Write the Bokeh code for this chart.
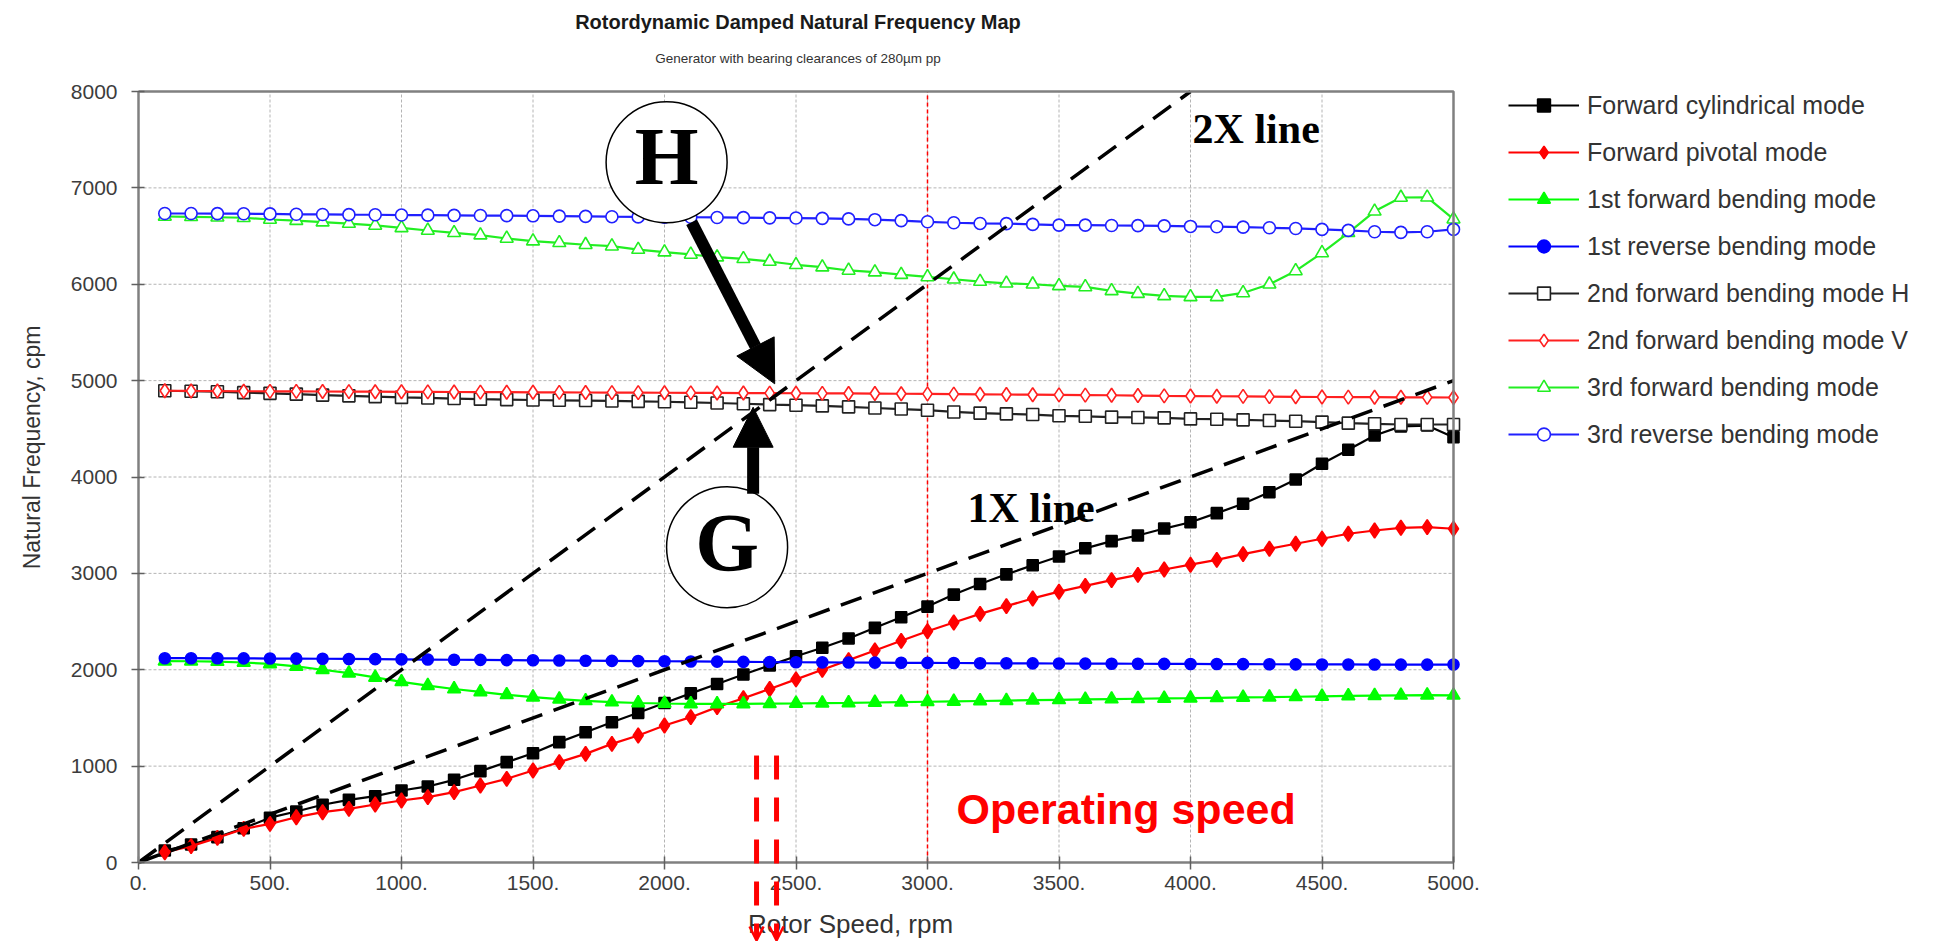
import math
from bokeh.plotting import figure
from bokeh.models import (Label, Legend, LegendItem, Arrow, NormalHead, OpenHead,
                          FixedTicker, Range1d)
from bokeh.embed import file_html
from bokeh.resources import INLINE

# ---------------- data ----------------
speed = list(range(100, 5001, 100))

fwd_cyl = [124, 187, 263, 356, 465, 529, 599, 650, 688, 747,
           789, 858, 948, 1041, 1134, 1249, 1352, 1456, 1553, 1655,
           1755, 1852, 1950, 2045, 2140, 2228, 2325, 2435, 2545, 2655,
           2780, 2890, 2990, 3085, 3175, 3260, 3335, 3393, 3465, 3531,
           3625, 3722, 3842, 3974, 4137, 4282, 4431, 4525, 4534, 4413]

fwd_piv = [107, 170, 256, 349, 401, 470, 522, 557, 602, 643,
           678, 730, 799, 868, 955, 1041, 1127, 1231, 1318, 1421,
           1508, 1612, 1705, 1800, 1900, 2000, 2100, 2200, 2300, 2400,
           2490, 2580, 2660, 2740, 2810, 2870, 2930, 2985, 3040, 3090,
           3140, 3200, 3255, 3307, 3359, 3411, 3445, 3473, 3480, 3463]

first_fwd = [2090, 2088, 2085, 2075, 2060, 2035, 2000, 1965, 1920, 1875,
             1835, 1800, 1770, 1740, 1715, 1695, 1678, 1665, 1655, 1650,
             1646, 1645, 1646, 1648, 1650, 1653, 1656, 1660, 1664, 1668,
             1672, 1676, 1680, 1684, 1688, 1692, 1696, 1699, 1702, 1705,
             1709, 1713, 1716, 1720, 1724, 1728, 1732, 1735, 1737, 1735]

first_rev = [2120, 2120, 2119, 2118, 2116, 2115, 2114, 2112, 2110, 2108,
             2106, 2104, 2102, 2100, 2098, 2096, 2094, 2092, 2090, 2088,
             2086, 2084, 2082, 2080, 2078, 2077, 2075, 2074, 2072, 2071,
             2070, 2068, 2067, 2066, 2065, 2064, 2063, 2062, 2061, 2060,
             2059, 2058, 2057, 2056, 2055, 2055, 2054, 2053, 2053, 2054]

second_H = [4895, 4890, 4885, 4875, 4868, 4860, 4850, 4842, 4834, 4826,
            4820, 4814, 4808, 4803, 4799, 4796, 4793, 4789, 4785, 4781,
            4775, 4768, 4760, 4751, 4745, 4738, 4728, 4716, 4705, 4693,
            4675, 4663, 4655, 4648, 4635, 4630, 4621, 4618, 4614, 4603,
            4600, 4593, 4586, 4579, 4569, 4559, 4552, 4545, 4545, 4545]

second_V = [4895, 4893, 4892, 4890, 4889, 4888, 4887, 4886, 4885, 4884,
            4883, 4882, 4881, 4880, 4879, 4878, 4877, 4876, 4875, 4874,
            4873, 4872, 4871, 4870, 4869, 4868, 4867, 4866, 4864, 4862,
            4860, 4858, 4856, 4854, 4852, 4850, 4848, 4845, 4842, 4840,
            4838, 4836, 4834, 4832, 4830, 4829, 4828, 4827, 4826, 4825]

third_fwd = [6703, 6700, 6695, 6690, 6672, 6660, 6645, 6630, 6610, 6585,
             6558, 6534, 6510, 6475, 6448, 6430, 6410, 6395, 6360, 6333,
             6309, 6281, 6264, 6236, 6202, 6178, 6143, 6126, 6100, 6076,
             6052, 6028, 6010, 6000, 5983, 5972, 5931, 5903, 5879, 5869,
             5869, 5910, 6000, 6138, 6325, 6534, 6757, 6900, 6902, 6675]

third_rev = [6734, 6734, 6733, 6732, 6730, 6726, 6724, 6722, 6721, 6718,
             6717, 6715, 6713, 6712, 6710, 6707, 6704, 6701, 6699, 6697,
             6695, 6693, 6691, 6689, 6687, 6684, 6678, 6670, 6660, 6648,
             6638, 6631, 6629, 6621, 6614, 6613, 6610, 6608, 6606, 6600,
             6597, 6593, 6586, 6579, 6569, 6559, 6545, 6538, 6545, 6569]

series_names = ["Forward cylindrical mode", "Forward pivotal mode",
                "1st forward bending mode", "1st reverse bending mode",
                "2nd forward bending mode H", "2nd forward bending mode V",
                "3rd forward bending mode", "3rd reverse bending mode"]

# excitation lines
line_1x_speed = [0, 5000]
line_1x_freq = [0, 5000]
line_2x_speed = [0, 4000]
line_2x_freq = [0, 8000]
operating_speed = 3000
critical_band = [2350, 2426]   # red dashed markers on the speed axis

x_ticks = [0, 500, 1000, 1500, 2000, 2500, 3000, 3500, 4000, 4500, 5000]
x_tick_labels = ["0.", "500.", "1000.", "1500.", "2000.", "2500.", "3000.",
                 "3500.", "4000.", "4500.", "5000."]
y_ticks = [0, 1000, 2000, 3000, 4000, 5000, 6000, 7000, 8000]
y_tick_labels = ["0", "1000", "2000", "3000", "4000", "5000", "6000", "7000", "8000"]

# ---------------- layout geometry (pixels) ----------------
W, H = 1949, 942
X0, Y0 = 138, 862                       # pixel position of (0 rpm, 0 cpm)
SX = (1453 - 138) / (x_ticks[-1] - x_ticks[0])
SY = (862 - 91) / (y_ticks[-1] - y_ticks[0])


def dx(px):
    return (px - X0) / SX


def dy(py):
    return (Y0 - py) / SY


p = figure(width=W, height=H, x_range=Range1d(dx(0), dx(W)), y_range=Range1d(dy(H), dy(0)),
           output_backend="svg", toolbar_location=None, title=None,
           min_border=0, min_border_left=0, min_border_right=0,
           min_border_top=0, min_border_bottom=0)
p.background_fill_color = "white"
p.border_fill_color = "white"
p.outline_line_color = None
p.xgrid.visible = False
p.ygrid.visible = False

xmin, xmax = x_ticks[0], x_ticks[-1]
ymin, ymax = y_ticks[0], y_ticks[-1]

# axes fixed at the data origin
p.xaxis.fixed_location = 0
p.yaxis.fixed_location = 0
p.xaxis.bounds = (xmin, xmax)
p.yaxis.bounds = (ymin, ymax)
p.xaxis.ticker = FixedTicker(ticks=x_ticks)
p.yaxis.ticker = FixedTicker(ticks=y_ticks)
p.xaxis.major_label_overrides = dict(zip(x_ticks, x_tick_labels))
p.yaxis.major_label_overrides = dict(zip(y_ticks, y_tick_labels))
for ax in (p.xaxis[0], p.yaxis[0]):
    ax.axis_line_color = "#808080"
    ax.axis_line_width = 2.5
    ax.major_tick_line_color = "#606060"
    ax.major_tick_line_width = 1.5
    ax.major_tick_in = 6
    ax.major_tick_out = 7
    ax.minor_tick_line_color = None
    ax.major_label_text_font = "Liberation Sans"
    ax.major_label_text_font_size = "21px"
    ax.major_label_text_color = "#3c3c3c"
p.xaxis.major_label_standoff = 6
p.yaxis.major_label_standoff = 14

# dotted grid (drawn from tick lists, limited to the plotting area)
p.segment(x0=x_ticks[1:], y0=[ymin] * (len(x_ticks) - 1), x1=x_ticks[1:],
          y1=[ymax] * (len(x_ticks) - 1), line_color="#b4b4b4", line_dash="3 2", line_width=1)
p.segment(x0=[xmin] * (len(y_ticks) - 1), y0=y_ticks[1:], x1=[xmax] * (len(y_ticks) - 1),
          y1=y_ticks[1:], line_color="#b4b4b4", line_dash="3 2", line_width=1)

# operating speed line
p.segment(x0=[operating_speed], y0=[ymin], x1=[operating_speed], y1=[ymax],
          line_color="#ff0000", line_dash="4 3", line_width=1.5)

# ---------------- series ----------------
styles = [
    (fwd_cyl, "#000000", "square", 11, "#000000"),
    (fwd_piv, "#ff0000", "diamond", 15, "#ff0000"),
    (first_fwd, "#00ff00", "triangle", 13, "#00ff00"),
    (first_rev, "#0000ff", "circle", 11, "#0000ff"),
    (second_H, "#222222", "square", 12, "white"),
    (second_V, "#ff2020", "diamond", 14, "white"),
    (third_fwd, "#22ee22", "triangle", 13, "white"),
    (third_rev, "#2020ff", "circle", 12, "white"),
]
items = []
for name, (vals, col, mk, sz, fill) in zip(series_names, styles):
    lr = p.line(speed, vals, line_color=col, line_width=2.2)
    sr = p.scatter(speed, vals, marker=mk, size=sz, fill_color=fill, line_color=col,
                   line_width=1.6)
    items.append(LegendItem(label=name, renderers=[lr, sr]))

# 1X and 2X lines
p.line(line_1x_speed, line_1x_freq, line_color="black", line_width=3.5, line_dash="22 12")
p.line(line_2x_speed, line_2x_freq, line_color="black", line_width=3.5, line_dash="22 12")

# frame border (top and right)
p.line([xmin, xmax, xmax], [ymax, ymax, ymin], line_color="#808080", line_width=2.5)

# ---------------- annotations ----------------
h_center = (2008, 7266)
g_center = (2238, 3272)
p.scatter([h_center[0]], [h_center[1]], marker="circle", size=121, fill_color="white",
          line_color="black", line_width=1.5)
p.scatter([g_center[0]], [g_center[1]], marker="circle", size=121, fill_color="white",
          line_color="black", line_width=1.5)
p.add_layout(Label(x=h_center[0], y=h_center[1] + 55, text="H", text_font="Liberation Serif",
                   text_font_style="bold", text_font_size="82px", text_align="center",
                   text_baseline="middle", text_color="black"))
p.add_layout(Label(x=g_center[0], y=g_center[1] + 50, text="G", text_font="Liberation Serif",
                   text_font_style="bold", text_font_size="82px", text_align="center",
                   text_baseline="middle", text_color="black"))

p.add_layout(Arrow(x_start=2103, y_start=6644, x_end=2419, y_end=4967,
                   line_width=12, line_color="black",
                   end=NormalHead(size=42, fill_color="black", line_color="black")))
p.add_layout(Arrow(x_start=2337, y_start=3825, x_end=2337, y_end=4724,
                   line_width=12, line_color="black",
                   end=NormalHead(size=40, fill_color="black", line_color="black")))

p.add_layout(Label(x=4008, y=7616, text="2X line", text_font="Liberation Serif",
                   text_font_style="bold", text_font_size="42px", text_baseline="alphabetic",
                   text_color="black"))
p.add_layout(Label(x=3152, y=3683, text="1X line", text_font="Liberation Serif",
                   text_font_style="bold", text_font_size="42px", text_baseline="alphabetic",
                   text_color="black"))
p.add_layout(Label(x=3110, y=550, text="Operating speed", text_font="Liberation Sans",
                   text_font_style="bold", text_font_size="43px", text_baseline="alphabetic",
                   text_color="#ff0000"))

# titles and axis labels
p.add_layout(Label(x=dx(797.5), y=dy(21), text="Rotordynamic Damped Natural Frequency Map",
                   text_font="Liberation Sans", text_font_style="bold", text_font_size="20px",
                   text_align="center", text_baseline="middle", text_color="#1a1a1a"))
p.add_layout(Label(x=dx(797.5), y=dy(58), text="Generator with bearing clearances of 280\u00b5m pp",
                   text_font="Liberation Sans", text_font_size="13.5px", text_align="center",
                   text_baseline="middle", text_color="#333333"))
p.add_layout(Label(x=dx(850), y=dy(923), text="Rotor Speed, rpm", text_font="Liberation Sans",
                   text_font_size="26px", text_align="center", text_baseline="middle",
                   text_color="#333333"))
p.add_layout(Label(x=dx(31), y=dy(447), angle=math.pi / 2, text="Natural Frequency, cpm",
                   text_font="Liberation Sans", text_font_size="23px", text_align="center",
                   text_baseline="middle", text_color="#333333"))

# red dashed markers running down past the speed axis
for xs in critical_band:
    p.add_layout(Arrow(x_start=xs, y_start=1110, x_end=xs, y_end=dy(940),
                       line_width=5, line_color="#ff0000", line_dash="24 18",
                       end=OpenHead(size=14, line_color="#ff0000", line_width=2.5)))

legend = Legend(items=items, location=(1508, H - 89 - 361), glyph_width=71, glyph_height=32,
                label_height=32, spacing=15, padding=0, margin=0, label_standoff=8,
                label_text_font="Liberation Sans", label_text_font_size="25px",
                label_text_color="#333333", border_line_color=None,
                background_fill_alpha=0)
p.add_layout(legend)

open("out.html", "w").write(file_html(p, INLINE))
